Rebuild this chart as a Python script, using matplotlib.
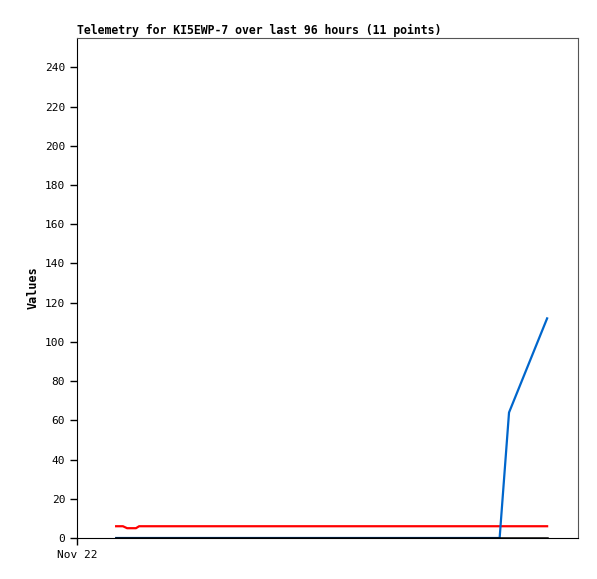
import numpy as np
from matplotlib import pyplot as plt

# hours since Nov 22 00:00
hours = [7.5, 8.8, 9.6, 11.3, 11.9, 23.6, 42.7, 71.5, 81.0, 82.8, 90.1]
red_vals = [6, 6, 5, 5, 6, 6, 6, 6, 6, 6, 6]
blue_vals = [0, 0, 0, 0, 0, 0, 0, 0, 0, 64, 112]
black_vals = [0, 0, 0, 0, 0, 0, 0, 0, 0, 0, 0]
yticks = list(range(0, 241, 20))

plt.rcParams['font.family'] = 'DejaVu Sans Mono'
fig = plt.figure(figsize=(5.97, 5.79), dpi=100)
ax = fig.add_axes([0.129, 0.0708, 0.839, 0.8636])
ax.plot(hours, red_vals, color="#ff0000", lw=1.6)
ax.plot(hours, blue_vals, color="#0066cc", lw=1.6)
ax.plot(hours, black_vals, color="k", lw=1.8)
ax.set_xlim(0, 96)
ax.set_ylim(0, 255)
ax.set_yticks(yticks)
ax.set_xticks([0])
ax.set_xticklabels(["Nov 22"])
ax.tick_params(labelsize=8, length=5, width=1, direction="out")
for s in ["top", "right"]:
    ax.spines[s].set_color("#555555")
ax.set_ylabel("Values", fontsize=8.5, fontweight="bold")
ax.set_title("Telemetry for KI5EWP-7 over last 96 hours (11 points)",
             loc="left", fontsize=8.3, fontweight="bold", pad=3)
fig.savefig("out.png", dpi=100)
